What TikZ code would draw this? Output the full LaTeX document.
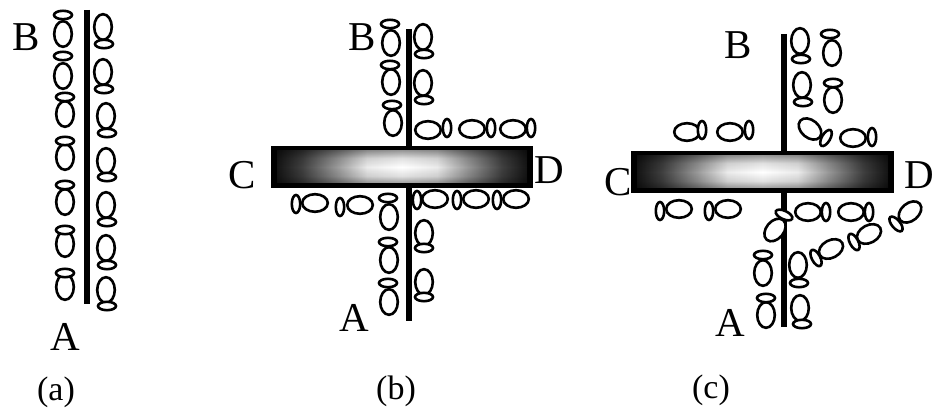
\documentclass[tikz,border=0pt]{standalone}
\usepackage{fontspec}
\setmainfont{Liberation Serif}
\pgfdeclarehorizontalshading{barh}{100bp}{color(0bp)=(black!92); color(25bp)=(black!92); color(30bp)=(black!75); color(37bp)=(black!40); color(43bp)=(black!8); color(50bp)=(white); color(57bp)=(black!8); color(63bp)=(black!40); color(70bp)=(black!75); color(75bp)=(black!92); color(100bp)=(black!92)}
\pgfdeclareverticalshading{barv}{100bp}{color(0bp)=(black!38); color(25bp)=(black!38); color(36bp)=(black!12); color(50bp)=(white); color(64bp)=(black!12); color(75bp)=(black!38); color(100bp)=(black!38)}
\tikzset{
  cell/.style={draw=black,fill=white,line width=2.6pt},
  axon/.style={line width=5.4pt,black,line cap=butt},
  lab/.style={font=\fontsize{41}{41}\selectfont,inner sep=0pt},
  panelcap/.style={font=\fontsize{34}{34}\selectfont,inner sep=0pt},
}
\newcommand{\pr}[6]{%
  \draw[cell,shift={(#1,#2)},rotate=#3] (0pt,0pt) ellipse[x radius=8.8pt,y radius=12.8pt];
  \draw[cell,shift={(#4,#5)},rotate=#6] (0pt,0pt) ellipse[x radius=9pt,y radius=4.2pt];
}
\newcommand{\barshape}[4]{%
  \fill[black] (#1,#2) rectangle (#3,#4);
  \shade[shading=barh] ({#1+6},{#2+5}) rectangle ({#3-6},{#4-5});
  \shade[shading=barv,blend mode=multiply] ({#1+6},{#2+5}) rectangle ({#3-6},{#4-5});
}
\begin{document}
\begin{tikzpicture}[x=1pt,y=-1pt]
\useasboundingbox (0,0) rectangle (934,411);
\fill[white] (0,0) rectangle (934,411);
% panel a
\draw[axon] (87,10) -- (87,304);
\foreach \by/\sy/\x in {34/15/63,76/56/63,114/97/65,157/141/65,202/185/65,244/230/65,287/273/65}
  {\pr{\x}{\by}{0}{\x}{\sy}{0}}
\foreach \by/\sy/\x in {27/44/103,72/89/103,116/133/106,161/177/106,205/222/106,248/265/106,290/306/106}
  {\pr{\x}{\by}{0}{\x+1}{\sy}{0}}
\node[lab] (aB) at (26,37) {B};
\node[lab] (aA) at (65,337) {A};
\node[panelcap] (aCap) at (56,392) {(a)};
% panel b
\draw[axon] (409,29) -- (409,321);
\node[lab] (bC) at (242,175) {C};
\barshape{271}{146}{533}{188}
\foreach \bx/\by/\sx/\sy in {391/43/390/24,391/82/390/65,393/123/392/105,423/37/424/54,423/83/424/100,389/217/388/198,389/260/388/242,389/302/388/283,424/233/424/248,424/282/424/297}
  {\pr{\bx}{\by}{0}{\sx}{\sy}{0}}
\foreach \bx/\by/\sx/\sy in {428/130/447/128,472/129/491/128,513/129/531/128,315/203/296/204,360/205/340/207,435/199/417/200,476/199/457/200,516/199/497/200}
  {\pr{\bx}{\by}{90}{\sx}{\sy}{90}}
\node[lab] (bB) at (362,37) {B};
\node[lab] (bD) at (549,170) {D};
\node[lab] (bA) at (354,318) {A};
\node[panelcap] (bCap) at (396,391) {(b)};
% panel c
\draw[axon] (784,34) -- (784,327);
\node[lab] (cC) at (618,182) {C};
\barshape{631}{151}{894}{193}
\foreach \bx/\by/\sx/\sy in {800/41/801/59,802/85/803/102,832/53/830/34,833/100/833/83,763/273/763/255,766/315/766/298,798/265/799/283,800/308/802/324}
  {\pr{\bx}{\by}{0}{\sx}{\sy}{0}}
\foreach \bx/\by/\sx/\sy in {853/138/872/137,687/132/702/130,730/132/749/130,679/209/660/211,728/209/709/211,808/212/826/212,851/212/869/212}
  {\pr{\bx}{\by}{90}{\sx}{\sy}{90}}
\pr{810}{129}{50}{826}{138}{60}
\pr{775}{230}{-40}{784}{215}{-25}
\pr{831}{249}{-62}{816}{258}{-62}
\pr{869}{234}{-62}{854}{242}{-62}
\pr{910}{212}{-50}{896}{224}{-50}
\node[lab] (cB) at (738,45) {B};
\node[lab] (cD) at (919,175) {D};
\node[lab] (cA) at (730,323) {A};
\node[panelcap] (cCap) at (711,390) {(c)};
\end{tikzpicture}
\end{document}
